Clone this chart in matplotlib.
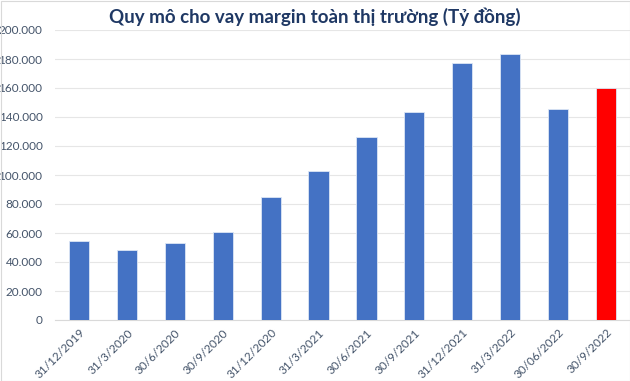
import matplotlib
matplotlib.use("Agg")
import matplotlib.pyplot as plt
from matplotlib.ticker import FuncFormatter

categories = ["31/12/2019", "31/3/2020", "30/6/2020", "30/9/2020", "31/12/2020",
              "31/3/2021", "30/6/2021", "30/9/2021", "31/12/2021", "31/3/2022",
              "30/06/2022", "30/9/2022"]
values = [54500, 48000, 53000, 61000, 85000, 102500, 126000, 143600, 177500,
          183500, 145200, 160000]
colors = ["#4472C4"] * 11 + ["#FF0000"]

plt.rcParams['font.family'] = ['Lato', 'DejaVu Sans']

fig = plt.figure(figsize=(6.3, 3.81), dpi=100)
ax = fig.add_axes([55/630, 61/381, 575/630, 290/381])

x = range(len(categories))
ax.bar(x, values, width=0.42, color=colors, edgecolor="#DCE6F5", linewidth=0.6, zorder=3)

ax.set_ylim(0, 200000)
ax.set_xlim(-0.5, len(categories) - 0.5)
ax.set_yticks(range(0, 200001, 20000))
ax.yaxis.set_major_formatter(FuncFormatter(lambda v, p: "0" if v == 0 else f"{int(v):,}".replace(",", ".")))
ax.grid(axis="y", color="#E6E6E6", linewidth=0.8, zorder=0)
for s in ["top", "right", "left"]:
    ax.spines[s].set_visible(False)
ax.spines["bottom"].set_color("#D9D9D9")
ax.tick_params(axis="both", length=0, colors="#44546A", labelsize=8.5)
ax.tick_params(axis="y", pad=9)
ax.tick_params(axis="x", pad=5)
ax.set_xticks(list(x))
ax.set_xticklabels(categories, rotation=45, ha="right", rotation_mode="anchor")
for lab in ax.get_xticklabels():
    lab.set_color("#44546A")
for lab in ax.get_yticklabels():
    lab.set_color("#44546A")

fig.text(0.5, 1 - 17/381, "Quy mô cho vay margin toàn thị trường (Tỷ đồng)",
         ha="center", va="center", fontsize=13.5, fontweight="bold", color="#1F3864")

fig.add_artist(plt.Rectangle((0.5/630, 0.5/381), 1 - 1/630, 1 - 1/381, transform=fig.transFigure,
                             fill=False, edgecolor="#D9D9D9", linewidth=0.8))

fig.savefig("out.png", dpi=100)
